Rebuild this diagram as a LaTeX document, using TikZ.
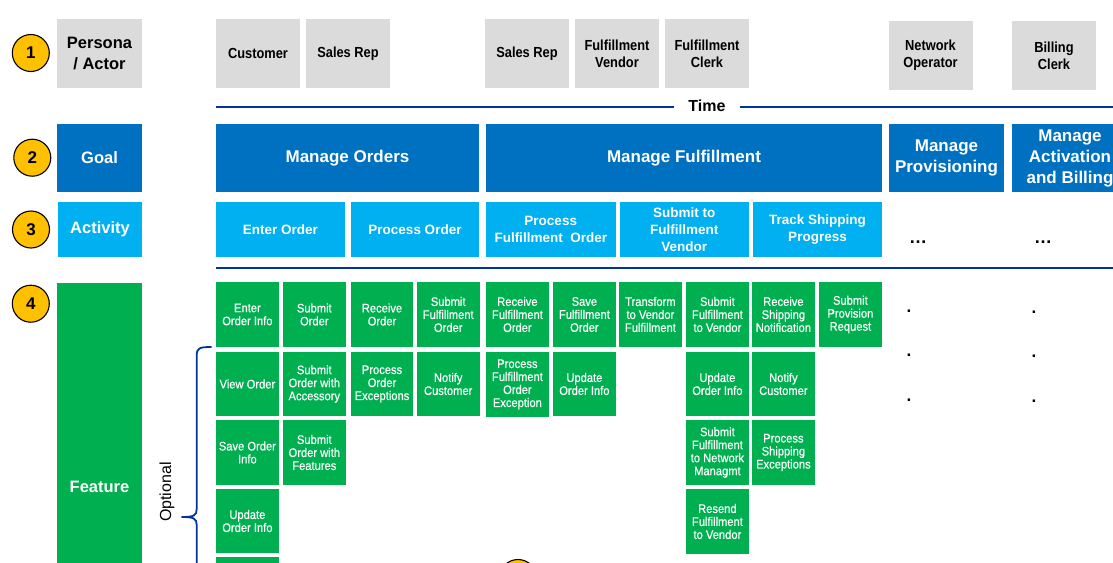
\documentclass[tikz,border=0pt]{standalone}
\usepackage{fontspec}
\setmainfont{Liberation Sans}
\newfontfamily\condfont[FakeStretch=0.88]{Liberation Sans}
\newfontfamily\featfont[FakeStretch=0.9, FakeBold=0.35]{Liberation Sans}
\definecolor{pgrey}{HTML}{DBDBDB}
\definecolor{goalblue}{HTML}{0070C0}
\definecolor{actblue}{HTML}{00B0F0}
\definecolor{featgreen}{HTML}{00B050}
\definecolor{numyellow}{HTML}{FFC000}
\definecolor{lineblue}{HTML}{0033A0}
\begin{document}
\begin{tikzpicture}[x=1pt,y=-1pt,
  base/.style={inner sep=0pt, outer sep=0pt, align=center, anchor=center},
  pbox/.style={base, fill=pgrey, text=black, minimum width=84pt, minimum height=69pt, font=\condfont\bfseries\fontsize{14.6}{17}\selectfont},
  gbox/.style={base, fill=goalblue, text=white, minimum height=68pt, font=\bfseries\fontsize{17}{21}\selectfont},
  abox/.style={base, fill=actblue, text=white, minimum height=55pt, font=\bfseries\fontsize{13.5}{17}\selectfont},
  featbox/.style={base, fill=featgreen, text=white, minimum width=62.7pt, minimum height=64.5pt, font=\featfont\fontsize{12.4}{13}\selectfont},
  num/.style={circle, draw=black, line width=1.1pt, fill=numyellow, minimum size=37pt, inner sep=0pt, font=\bfseries\fontsize{17}{17}\selectfont},
  tline/.style={draw=lineblue, line width=1.8pt},
  bracepath/.style={draw=lineblue, line width=1.8pt},
  dotnode/.style={base, font=\bfseries\fontsize{17}{17}\selectfont},
  ellnode/.style={base, font=\bfseries\fontsize{18}{18}\selectfont}
]
\path[use as bounding box, clip] (0,0) rectangle (1113,562);

% numbers
\node[num] (n1) at (30.8,53) {1};
\node[num] (n2) at (32.3,157.7) {2};
\node[num] (n3) at (31,229.5) {3};
\node[num] (n4) at (30.8,303.7) {4};
\node[num] (n5) at (518,578) {};

% persona row
\node[pbox, minimum width=85pt, font=\bfseries\fontsize{16.5}{21}\selectfont] (persona) at (99.5,53.5) {Persona\\/ Actor};
\node[pbox] (cust) at (258,53.5) {Customer};
\node[pbox] (sales1) at (348,53.5) {Sales Rep};
\node[pbox] (sales2) at (527,53.5) {Sales Rep};
\node[pbox] (fvendor) at (617,53.5) {Fulfillment\\Vendor};
\node[pbox] (fclerk) at (707,53.5) {Fulfillment\\Clerk};
\node[pbox] (netop) at (930.5,55.5) {Network\\Operator};
\node[pbox] (billclerk) at (1054,55.5) {Billing\\Clerk};

% time line
\node[base, inner xsep=14pt, font=\bfseries\fontsize{16}{16}\selectfont] (time) at (707,106) {Time};
\coordinate (tl0) at (216,106.7);
\coordinate (tr1) at (1113,106.7);
\draw[tline] (tl0) -- (tl0 -| time.west);
\draw[tline] (tr1 -| time.east) -- (tr1);

% goal row
\node[gbox, minimum width=85pt, font=\bfseries\fontsize{16.5}{21}\selectfont] (goal) at (99.5,158) {Goal};
\node[gbox, minimum width=263pt] (mo) at (347.5,158) {Manage Orders};
\node[gbox, minimum width=396pt] (mf) at (684,158) {Manage Fulfillment};
\node[gbox, minimum width=115pt] (mp) at (946.5,158) {Manage\\Provisioning};
\node[gbox, minimum width=116pt] (mab) at (1070,158) {Manage\\Activation\\and Billing};

% activity row
\node[abox, minimum width=84pt, font=\bfseries\fontsize{16.5}{21}\selectfont] (act) at (100,229.5) {Activity};
\node[abox, minimum width=129pt] (eo) at (280.5,229.5) {Enter Order};
\node[abox, minimum width=128pt] (po) at (415,229.5) {Process Order};
\node[abox, minimum width=129.5pt] (pfo) at (550.75,229.5) {Process\\Fulfillment\ \ Order};
\node[abox, minimum width=128.5pt] (sfv) at (684.25,229.5) {Submit to\\Fulfillment\\Vendor};
\node[abox, minimum width=129pt] (tsp) at (817.5,229.5) {Track Shipping\\Progress};
\node[ellnode] (ell1) at (918,242) {…};
\node[ellnode] (ell2) at (1043,242) {…};

\coordinate (l2a) at (216,268);
\coordinate (l2b) at (1113,268);
\draw[tline] (l2a) -- (l2b);

% feature label
\node[base, fill=featgreen, text=white, minimum width=85pt, minimum height=408pt, font=\bfseries\fontsize{16.5}{21}\selectfont] (feat) at (99.5,487) {Feature};

% brace
\coordinate (bt) at (211.7,347);
\coordinate (bm) at (181.7,517);
\coordinate (bb) at (196.7,575);
\draw[bracepath] (bt) .. controls (199,347) and (196.7,348) .. (196.7,356) -- (196.7,509) .. controls (196.7,515.5) and (194,517) .. (bm);
\draw[bracepath] (bm) .. controls (194,517) and (196.7,518.5) .. (196.7,525) -- (bb);
\node[base, rotate=90, font=\fontsize{16}{16}\selectfont] (opt) at (167,492) {Optional};

% feature grid, row 1
\node[featbox] (f11) at (247.4,314.5) {Enter\\Order Info};
\node[featbox] (f21) at (314.3,314.5) {Submit\\Order};
\node[featbox] (f31) at (382,314.5) {Receive\\Order};
\node[featbox] (f41) at (448.2,314.5) {Submit\\Fulfillment\\Order};
\node[featbox] (f51) at (517.4,314.5) {Receive\\Fulfillment\\Order};
\node[featbox] (f61) at (584.4,314.5) {Save\\Fulfillment\\Order};
\node[featbox] (f71) at (650.4,314.5) {Transform\\to Vendor\\Fulfillment};
\node[featbox] (f81) at (717.4,314.5) {Submit\\Fulfillment\\to Vendor};
\node[featbox] (f91) at (783.4,314.5) {Receive\\Shipping\\Notification};
\node[featbox] (f101) at (850.4,314.5) {Submit\\Provision\\Request};
% row 2
\node[featbox] (f12) at (247.4,384) {View Order};
\node[featbox] (f22) at (314.3,384) {Submit\\Order with\\Accessory};
\node[featbox] (f32) at (382,384) {Process\\Order\\Exceptions};
\node[featbox] (f42) at (448.2,384) {Notify\\Customer};
\node[featbox, minimum height=65.5pt] (f52) at (517.4,384.5) {Process\\Fulfillment\\Order\\Exception};
\node[featbox] (f62) at (584.4,384) {Update\\Order Info};
\node[featbox] (f82) at (717.4,384) {Update\\Order Info};
\node[featbox] (f92) at (783.4,384) {Notify\\Customer};
% row 3
\node[featbox] (f13) at (247.4,452.5) {Save Order\\Info};
\node[featbox] (f23) at (314.3,452.5) {Submit\\Order with\\Features};
\node[featbox] (f83) at (717.4,452.5) {Submit\\Fulfillment\\to Network\\Managmt};
\node[featbox] (f93) at (783.4,452.5) {Process\\Shipping\\Exceptions};
% row 4
\node[featbox] (f14) at (247.4,521) {Update\\Order Info};
\node[featbox] (f84) at (717.4,521.5) {Resend\\Fulfillment\\to Vendor};
% row 5
\node[featbox] (f15) at (247.4,589.5) {};

% dots
\node[dotnode] (d1) at (909,311) {.};
\node[dotnode] (d2) at (909,355.5) {.};
\node[dotnode] (d3) at (909,400) {.};
\node[dotnode] (d4) at (1034,312.5) {.};
\node[dotnode] (d5) at (1034,356.5) {.};
\node[dotnode] (d6) at (1034,401) {.};
\end{tikzpicture}
\end{document}
